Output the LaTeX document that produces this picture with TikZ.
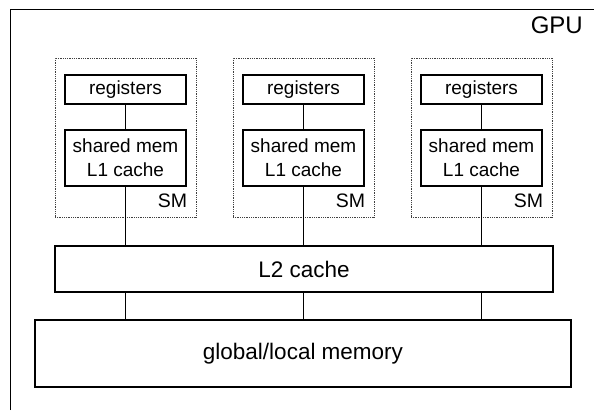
\documentclass[tikz,border=0pt]{standalone}
\usepackage{fontspec}
\setmainfont{Liberation Sans}
\begin{document}
\begin{tikzpicture}[x={(1pt,0)}, y={(0,-1pt)},
  unit/.style={draw, line width=1.3pt, inner sep=0pt, align=center,
    font=\fontsize{19}{24}\selectfont},
  smbox/.style={draw=black!75, densely dotted, line width=0.8pt, inner sep=0pt,
    minimum width=141pt, minimum height=159pt},
  wide/.style={draw, line width=1.3pt, inner sep=0pt,
    font=\fontsize{22.5}{26}\selectfont},
  link/.style={line width=1.2pt},
  smlabel/.style={anchor=base east, inner sep=0pt, xshift=-9pt, yshift=9.5pt,
    font=\fontsize{19.5}{22}\selectfont}]

\useasboundingbox (0,0) rectangle (594,410);

% GPU frame
\draw[line width=1pt] (10,410) -- (10,9) -- (594,9);
\node[anchor=base east, inner sep=0pt, font=\fontsize{24}{28}\selectfont] (gpu) at (583,33) {GPU};

% streaming multiprocessors
\foreach \i/\cx in {1/125.5, 2/303.5, 3/481.5} {
  \node[smbox] (sm\i) at (\cx,137.5) {};
  \node[unit, minimum width=121pt, minimum height=29pt] (reg\i) at (\cx,89.5) {registers};
  \node[unit, minimum width=121pt, minimum height=56pt] (sh\i) at (\cx,158) {shared mem\\L1 cache};
  \node[smlabel] (sml\i) at (sm\i.south east) {SM};
  \draw[link] (reg\i) -- (sh\i);
}

% shared levels
\node[wide, minimum width=498pt, minimum height=46pt] (l2) at (304,269) {L2 cache};
\node[wide, minimum width=536pt, minimum height=67pt] (mem) at (303,353.5) {global/local memory};

\foreach \i in {1,2,3} {
  \draw[link] (sh\i.south) -- (sh\i.south |- l2.north);
  \draw[link] (l2.south -| sh\i.south) -- (mem.north -| sh\i.south);
}
\end{tikzpicture}
\end{document}
